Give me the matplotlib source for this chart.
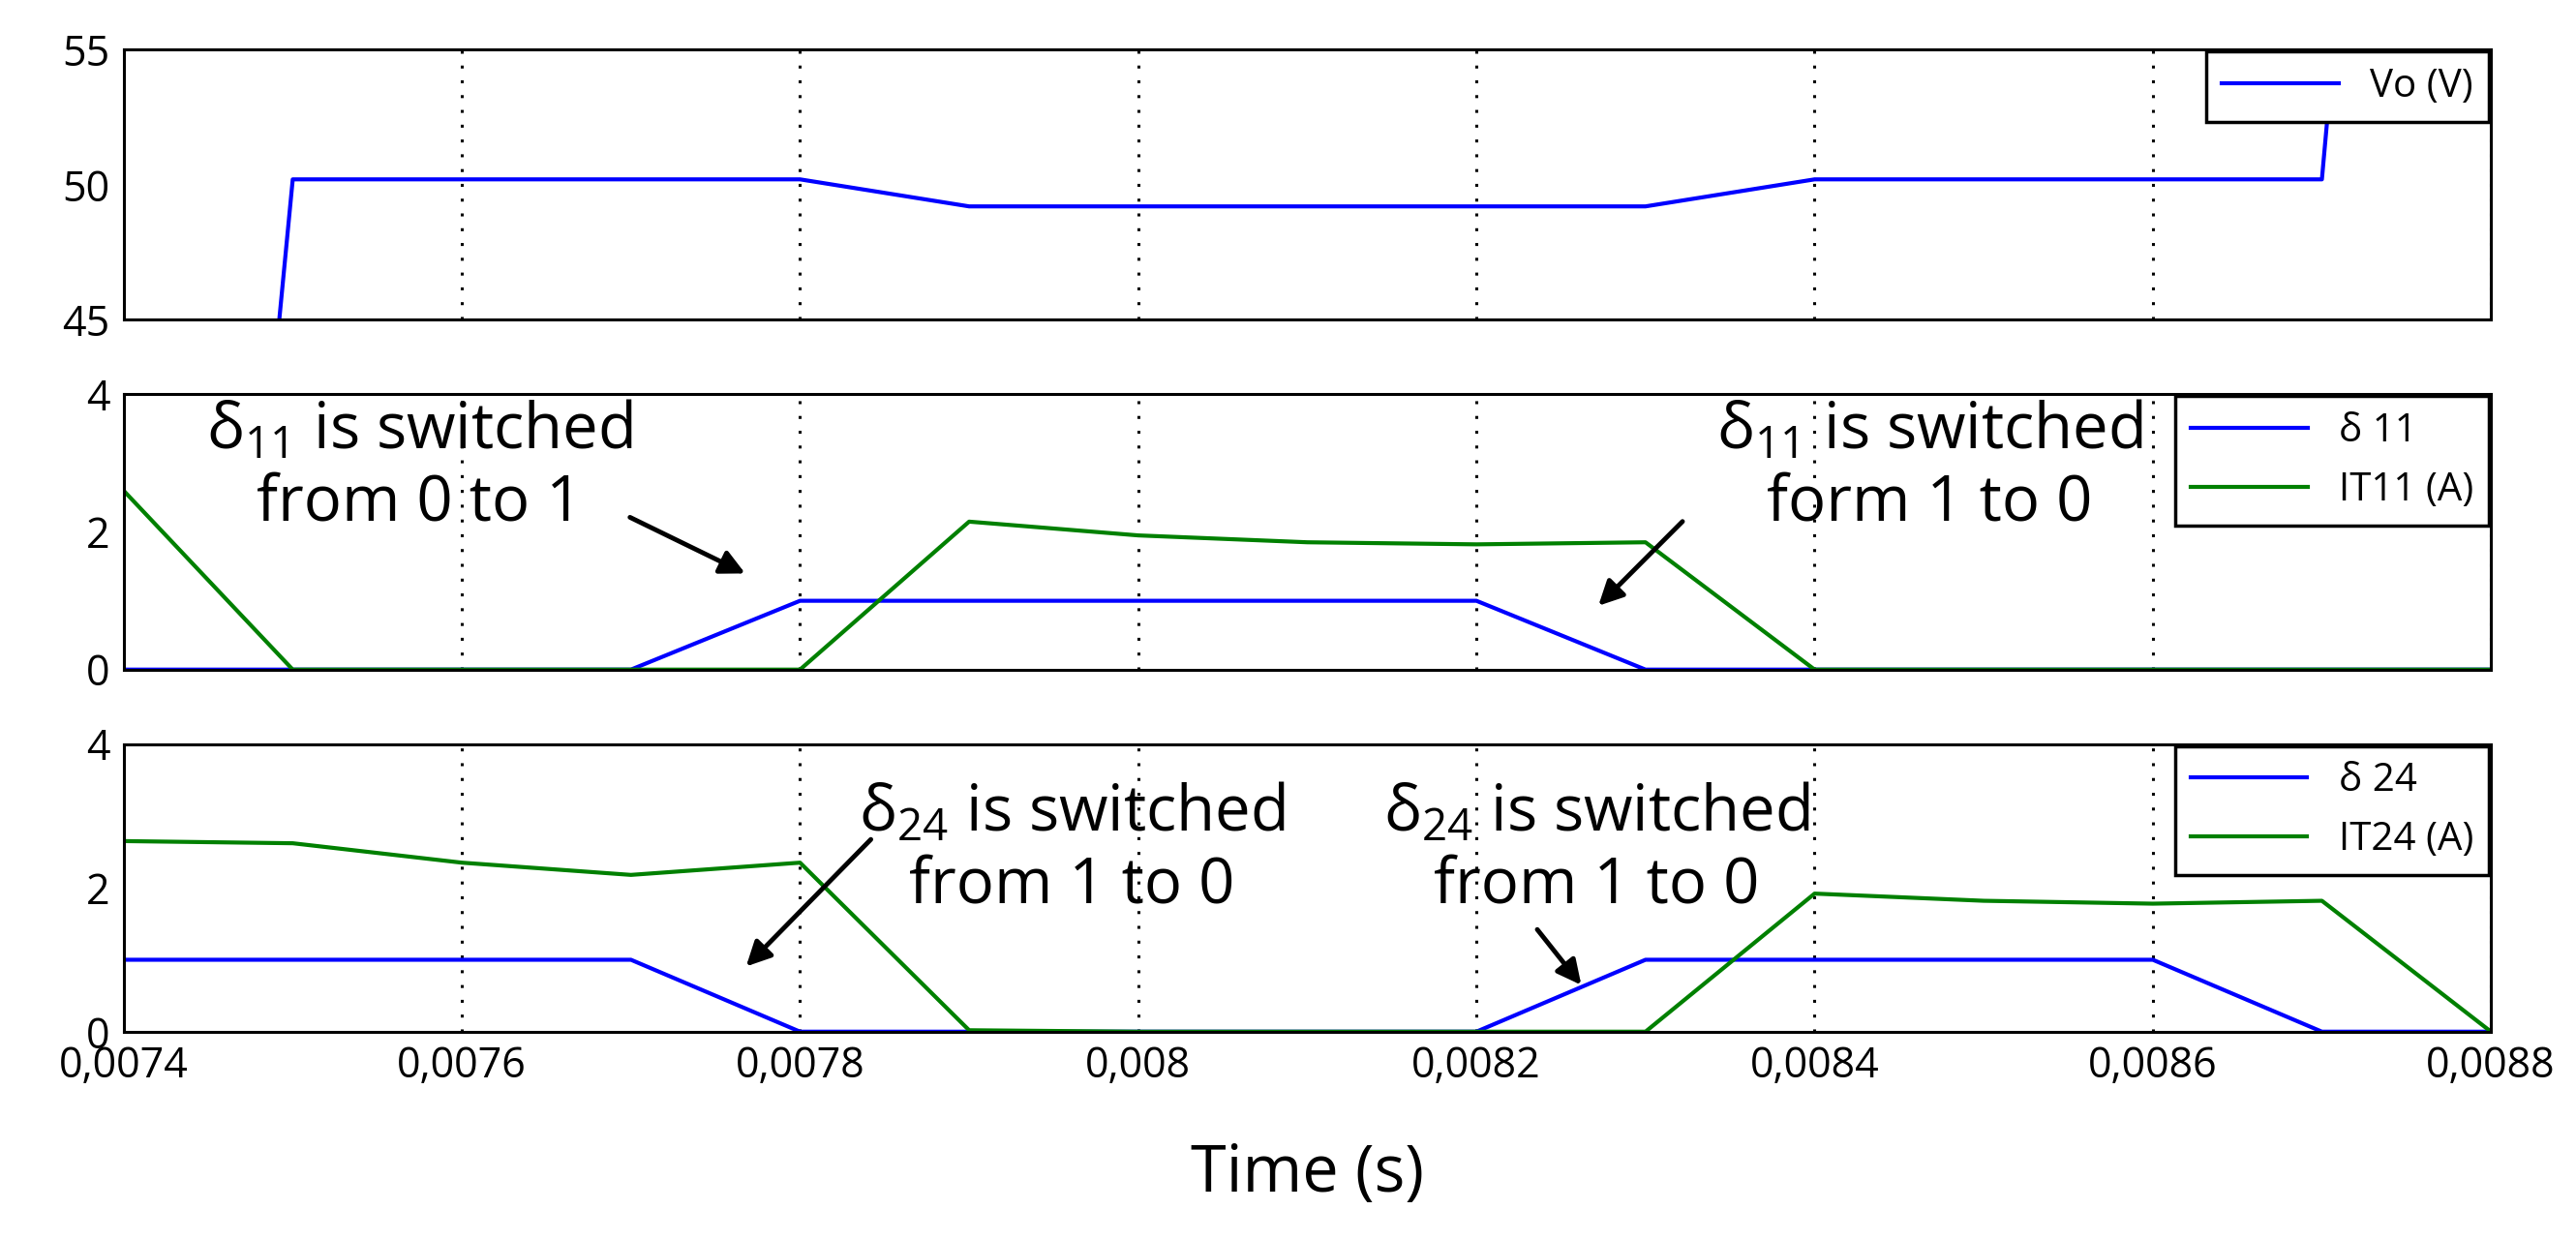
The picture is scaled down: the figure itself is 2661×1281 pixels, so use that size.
import matplotlib
matplotlib.use("Agg")
import matplotlib.pyplot as plt
import numpy as np

plt.rcParams['font.family'] = ['Open Sans', 'DejaVu Sans']

t = [0.0074, 0.0075, 0.0076, 0.0077, 0.0078, 0.0079, 0.0080, 0.0081,
     0.0082, 0.0083, 0.0084, 0.0085, 0.0086, 0.0087, 0.0088]
vo = [-15, 50.2, 50.2, 50.2, 50.2, 49.2, 49.2, 49.2, 49.2, 49.2, 50.2, 50.2, 50.2, 50.2, 120]
d11 = [0, 0, 0, 0, 1, 1, 1, 1, 1, 0, 0, 0, 0, 0, 0]
it11 = [2.6, 0, 0, 0, 0, 2.15, 1.95, 1.85, 1.82, 1.85, 0, 0, 0, 0, 0]
d24 = [1, 1, 1, 1, 0, 0, 0, 0, 0, 1, 1, 1, 1, 0, 0]
it24 = [2.65, 2.62, 2.35, 2.18, 2.35, 0.02, 0, 0, 0, 0, 1.92, 1.82, 1.78, 1.82, 0]
xticks = [0.0074, 0.0076, 0.0078, 0.0080, 0.0082, 0.0084, 0.0086, 0.0088]
xticklabels = ['0,0074', '0,0076', '0,0078', '0,008', '0,0082', '0,0084', '0,0086', '0,0088']

BLUE = '#0000ff'
GREEN = '#008000'

fig = plt.figure(figsize=(26.61, 12.81), dpi=100)
L, W = 0.048, 0.919
ax1 = fig.add_axes([L, 0.742, W, 0.218])
ax2 = fig.add_axes([L, 0.460, W, 0.222])
ax3 = fig.add_axes([L, 0.168, W, 0.232])

for ax in (ax1, ax2, ax3):
    ax.set_xlim(0.0074, 0.0088)
    ax.set_xticks(xticks)
    ax.xaxis.grid(True, linestyle=(0, (1, 4)), color='black', linewidth=2.2)
    for s in ax.spines.values():
        s.set_linewidth(2.2)
    ax.tick_params(axis='both', labelsize=31, length=0, pad=10)

ax1.plot(t, vo, color=BLUE, lw=3, label='Vo (V)')
ax1.set_ylim(45, 55)
ax1.set_yticks([45, 50, 55])
ax1.set_xticklabels([])

ax2.plot(t, d11, color=BLUE, lw=3, label='δ 11')
ax2.plot(t, it11, color=GREEN, lw=3, label='IT11 (A)')
ax2.set_ylim(0, 4)
ax2.set_yticks([0, 2, 4])
ax2.set_xticklabels([])

ax3.plot(t, d24, color=BLUE, lw=3, label='δ 24')
ax3.plot(t, it24, color=GREEN, lw=3, label='IT24 (A)')
ax3.set_ylim(0, 4)
ax3.set_yticks([0, 2, 4])
ax3.set_xticklabels(xticklabels)
ax3.set_xlabel('Time (s)', fontsize=48, labelpad=40)

for ax in (ax1, ax2, ax3):
    lg = ax.legend(loc='upper right', fontsize=29, fancybox=False, framealpha=1,
                   edgecolor='black', borderaxespad=0.05, handlelength=3)
    lg.get_frame().set_linewidth(2.5)

fs = 47
ap = dict(arrowstyle='-|>', color='black', lw=3.5, mutation_scale=38)
kw = dict(fontsize=fs, ha='center', va='center', multialignment='center', linespacing=1.15)
ax2.text(0.007575, 2.93, '$\\mathregular{δ_{11}}$ is switched\nfrom 0 to 1', **kw)
ax2.annotate('', xy=(0.007769, 1.38), xytext=(0.007698, 2.23), arrowprops=ap)
ax2.text(0.008468, 2.93, '$\\mathregular{δ_{11}}$ is switched\nform 1 to 0', **kw)
ax2.annotate('', xy=(0.008271, 0.9), xytext=(0.008323, 2.18), arrowprops=ap)
ax3.text(0.007961, 2.52, '$\\mathregular{δ_{24}}$ is switched\nfrom 1 to 0', **kw)
ax3.annotate('', xy=(0.007767, 0.88), xytext=(0.007843, 2.7), arrowprops=ap)
ax3.text(0.008271, 2.52, '$\\mathregular{δ_{24}}$ is switched\nfrom 1 to 0', **kw)
ax3.annotate('', xy=(0.008263, 0.62), xytext=(0.008235, 1.45), arrowprops=ap)

fig.savefig('out.png', dpi=100)
